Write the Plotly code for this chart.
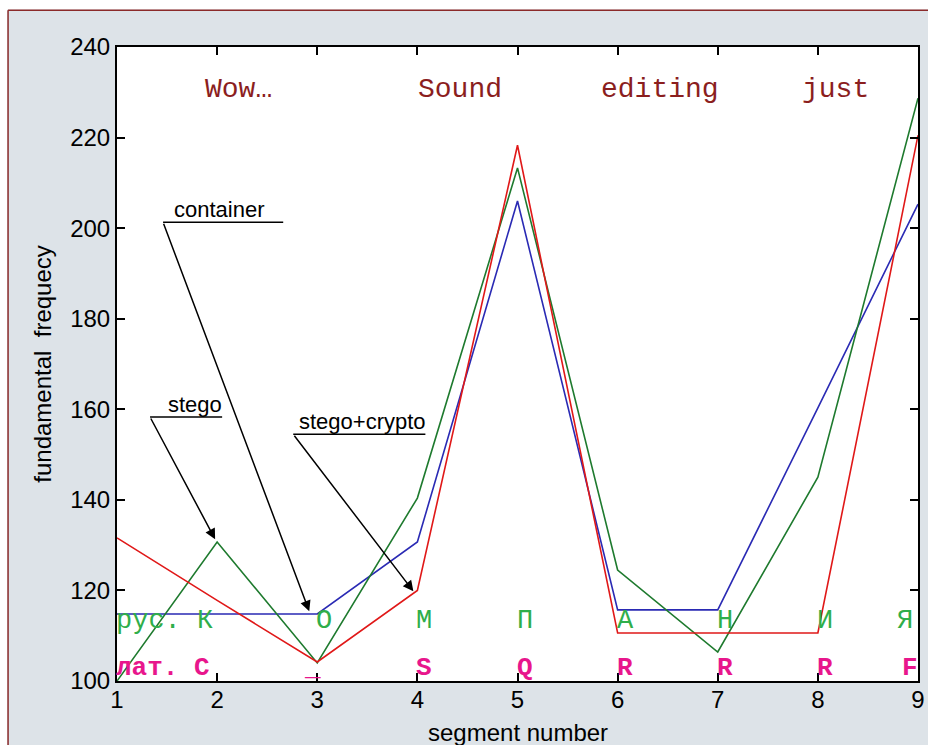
import plotly.graph_objects as go

# ---- data ----
segments = [1, 2, 3, 4, 5, 6, 7, 8, 9]
container = [114.8, 114.8, 114.8, 130.7, 206.0, 115.7, 115.7, 160.3, 205.3]
stego = [100.0, 130.7, 104.0, 140.4, 213.3, 124.5, 106.4, 145.0, 228.7]
stego_crypto = [131.6, 117.8, 104.2, 120.0, 218.3, 110.6, 110.6, 110.6, 220.5]

words = ["Wow…", "Sound", "editing", "just"]
words_x = [2.21, 4.43, 6.42, 8.18]
words_y = 230.7

ru_labels = ["рус. К", "О", "М", "П", "А", "Н", "И", "Я"]
ru_x = [1.0, 3.0, 4.0, 5.0, 6.0, 7.0, 8.0, 8.8]
ru_y = 113.2

lat_labels = ["лат. C", "_", "S", "Q", "R", "R", "R", "F"]
lat_x = [1.0, 2.88, 4.0, 5.0, 6.0, 7.0, 8.0, 8.85]
lat_y = 102.8

# callouts: text, text centre x, tail (line start) x/y, underline end x, arrow tip x/y
callouts = [
    dict(text="container", tx=2.02, ax=1.46, ay=201.3, ux=2.66, px=2.92, py=115.4),
    dict(text="stego", tx=1.78, ax=1.33, ay=158.3, ux=2.05, px=1.98, py=131.3),
    dict(text="stego+crypto", tx=3.45, ax=2.76, ay=154.5, ux=4.08, px=3.96, py=119.8),
]

fig = go.Figure()
fig.add_trace(go.Scatter(x=segments, y=container, mode="lines", name="container",
                         line=dict(color="#2a2ab4", width=1.6)))
fig.add_trace(go.Scatter(x=segments, y=stego, mode="lines", name="stego",
                         line=dict(color="#1e7a2e", width=1.6)))
fig.add_trace(go.Scatter(x=segments, y=stego_crypto, mode="lines", name="stego+crypto",
                         line=dict(color="#e01818", width=1.6)))

annotations = []
mono = "Liberation Mono, Courier New, monospace"
sans = "Liberation Sans, Arial, sans-serif"
for w, x in zip(words, words_x):
    annotations.append(dict(x=x, y=words_y, xref="x", yref="y", text=w, showarrow=False,
                            xanchor="center", yanchor="middle",
                            font=dict(family=mono, size=28, color="#8b1e1e")))
for t, x in zip(ru_labels, ru_x):
    annotations.append(dict(x=x, y=ru_y, xref="x", yref="y", text=t, showarrow=False,
                            xanchor="left", yanchor="middle", xshift=-3,
                            font=dict(family=mono, size=27, color="#2fae4a")))
for t, x in zip(lat_labels, lat_x):
    annotations.append(dict(x=x, y=lat_y, xref="x", yref="y", text="<b>" + t + "</b>", showarrow=False,
                            xanchor="left", yanchor="middle", xshift=-3,
                            font=dict(family=mono, size=26, color="#e8168c")))

shapes = []
for c in callouts:
    annotations.append(dict(x=c["tx"], y=c["ay"], xref="x", yref="y", text=c["text"], showarrow=False,
                            xanchor="center", yanchor="bottom", yshift=-2,
                            font=dict(family=sans, size=22, color="black")))
    annotations.append(dict(x=c["px"], y=c["py"], xref="x", yref="y", ax=c["ax"], ay=c["ay"],
                            axref="x", ayref="y", text="", showarrow=True, arrowhead=2,
                            arrowsize=1.4, arrowwidth=1.5, arrowcolor="black", standoff=0))
    shapes.append(dict(type="line", xref="x", yref="y", x0=c["ax"], y0=c["ay"], x1=c["ux"], y1=c["ay"],
                       line=dict(color="black", width=1.5)))

# axis titles as paper annotations (fixed positions in the margins)
annotations.append(dict(x=0.5, y=-0.082, xref="paper", yref="paper", text="segment number",
                        showarrow=False, xanchor="center", yanchor="middle",
                        font=dict(family=sans, size=24, color="black")))
annotations.append(dict(x=-0.094, y=0.5, xref="paper", yref="paper", text="fundamental  frequecy",
                        showarrow=False, xanchor="center", yanchor="middle", textangle=-90,
                        font=dict(family=sans, size=24, color="black")))

# white outer strip (left/top) and dark-red frame of the figure panel
shapes.append(dict(type="rect", xref="paper", yref="paper", x0=-0.2, y0=-0.2, x1=-0.137, y1=1.2,
                   fillcolor="white", line=dict(width=0), layer="above"))
shapes.append(dict(type="rect", xref="paper", yref="paper", x0=-0.2, y0=1.059, x1=1.2, y1=1.2,
                   fillcolor="white", line=dict(width=0), layer="above"))
shapes.append(dict(type="line", xref="paper", yref="paper", x0=-0.136, y0=-0.2, x1=-0.136, y1=1.058,
                   line=dict(color="#8b2a2a", width=1.5), layer="above"))
shapes.append(dict(type="line", xref="paper", yref="paper", x0=-0.136, y0=1.058, x1=1.2, y1=1.058,
                   line=dict(color="#8b2a2a", width=1.5), layer="above"))

tick_font = dict(family=sans, size=24, color="black")
fig.update_layout(
    width=928, height=745, autosize=False,
    margin=dict(l=117, r=10, t=47, b=64, autoexpand=False),
    paper_bgcolor="#dde3e8",
    plot_bgcolor="white",
    showlegend=False,
    annotations=annotations,
    shapes=shapes,
    xaxis=dict(range=[1, 9], tickvals=segments, ticks="inside", ticklen=8, tickwidth=1.5,
               tickcolor="black", showline=True, linecolor="black", linewidth=2, mirror="allticks",
               showgrid=False, zeroline=False, tickfont=tick_font, automargin=False,
               ticklabelstandoff=-4),
    yaxis=dict(range=[100, 240], dtick=20, ticks="inside", ticklen=8, tickwidth=1.5,
               tickcolor="black", showline=True, linecolor="black", linewidth=2, mirror="allticks",
               showgrid=False, zeroline=False, tickfont=tick_font, automargin=False),
)

fig.write_html("out.html",
               config={"responsive": False, "displayModeBar": False},
               post_script="document.body.style.margin='0';document.body.style.overflow='hidden';")
